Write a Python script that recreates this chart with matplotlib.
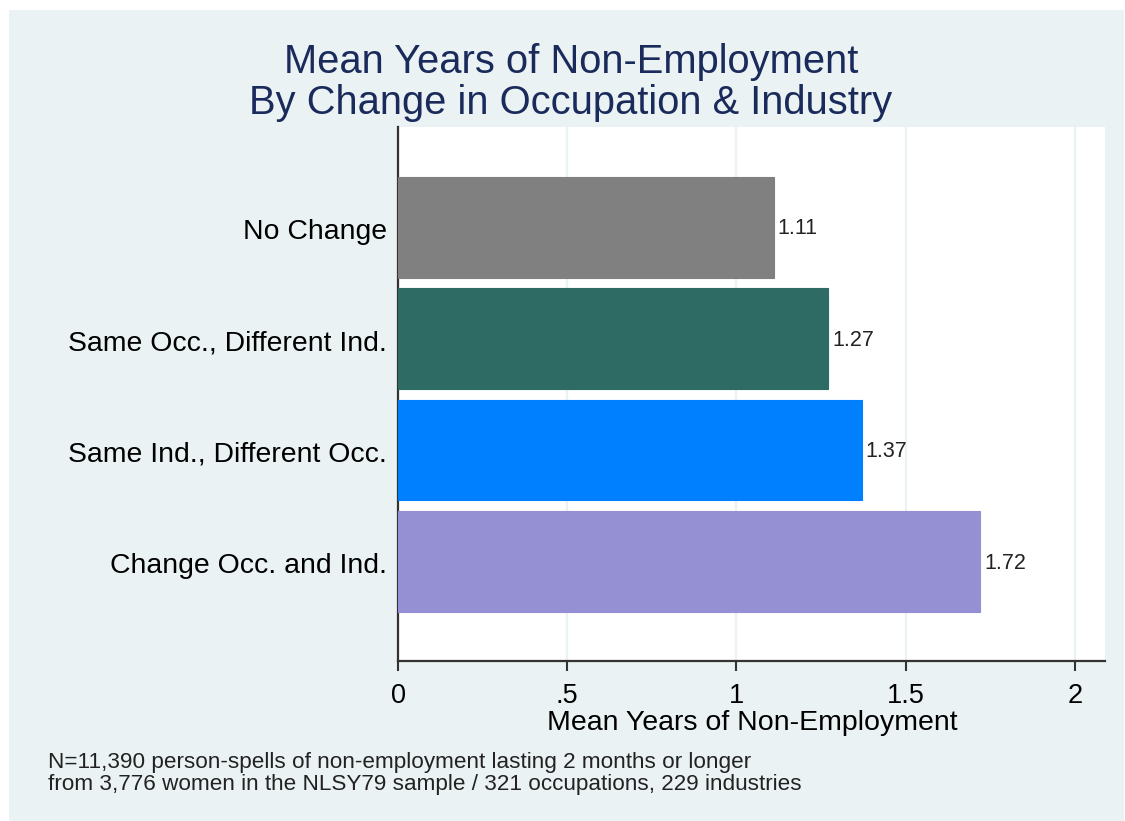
import matplotlib
matplotlib.use("Agg")
import matplotlib.pyplot as plt
import matplotlib.transforms as mtransforms
from matplotlib.patches import Rectangle

categories = ["No Change", "Same Occ., Different Ind.", "Same Ind., Different Occ.", "Change Occ. and Ind."]
values = [1.11, 1.27, 1.37, 1.72]
value_labels = ["1.11", "1.27", "1.37", "1.72"]
colors = ["#808080", "#2D6B64", "#0080FF", "#958FD3"]
xticks = [0, 0.5, 1, 1.5, 2]
xticklabels = ["0", ".5", "1", "1.5", "2"]
title_lines = ["Mean Years of Non-Employment", "By Change in Occupation & Industry"]
xlabel = "Mean Years of Non-Employment"
note_lines = ["N=11,390 person-spells of non-employment lasting 2 months or longer",
              "from 3,776 women in the NLSY79 sample / 321 occupations, 229 industries"]

plt.rcParams['font.family'] = ['Liberation Sans', 'DejaVu Sans']
W, H = 1125, 821
fig = plt.figure(figsize=(W/100, H/100), dpi=100)
fig.patch.set_facecolor("white")
bg = "#EAF2F3"
fig.patches.append(Rectangle((9/W, 0), (1124-9)/W, (H-10)/H, transform=fig.transFigure,
                             facecolor=bg, edgecolor="none", zorder=-10))

ax = fig.add_axes([398/W, 1-661/H, (1105-398)/W, (661-127)/H])
ax.set_zorder(1)
ax.set_facecolor("white")
pos = list(range(len(categories)))
ax.barh(pos, values, height=0.906, color=colors, edgecolor=colors, linewidth=0.8, zorder=3)
for p, v, lab in zip(pos, values, value_labels):
    ax.annotate(lab, (v, p), xytext=(3, -5.2), textcoords="offset points",
                va="baseline", ha="left", fontsize=15.5, color="#222222")
ax.set_ylim(3.895, -0.9)
ax.set_xlim(0, 2.089)
ax.set_yticks(pos)
ax.set_yticklabels(categories, fontsize=20.4)
ax.tick_params(axis="y", length=0, pad=8)
off = mtransforms.ScaledTranslation(0, -2/100, fig.dpi_scale_trans)
for t in ax.get_yticklabels():
    t.set_transform(t.get_transform() + off)
ax.set_xticks(xticks)
ax.set_xticklabels(xticklabels, fontsize=19.5)
ax.tick_params(axis="x", length=7, width=1.5, color="#333333", pad=8.5)
for g in xticks[1:]:
    ax.axvline(g, color=bg, linewidth=1.6, zorder=1)
for s in ["top", "right"]:
    ax.spines[s].set_visible(False)
for s in ["left", "bottom"]:
    ax.spines[s].set_color("#333333")
    ax.spines[s].set_linewidth(1.6)
ax.set_xlabel(xlabel, fontsize=20.5)
ax.xaxis.set_label_coords((752-398)/(1105-398), -(723-661)/(661-127))
ax.xaxis.label.set_va("center")

fig.text(571/W, 1-62/H, title_lines[0], ha="center", va="center", fontsize=28.7, color="#1A2A5A")
fig.text(571/W, 1-103/H, title_lines[1], ha="center", va="center", fontsize=28.7, color="#1A2A5A")
fig.text(48/W, 1-768/H, note_lines[0], ha="left", va="baseline", fontsize=16.2, color="#222222")
fig.text(48/W, 1-790/H, note_lines[1], ha="left", va="baseline", fontsize=16.2, color="#222222")

fig.savefig("out.png", dpi=100)
